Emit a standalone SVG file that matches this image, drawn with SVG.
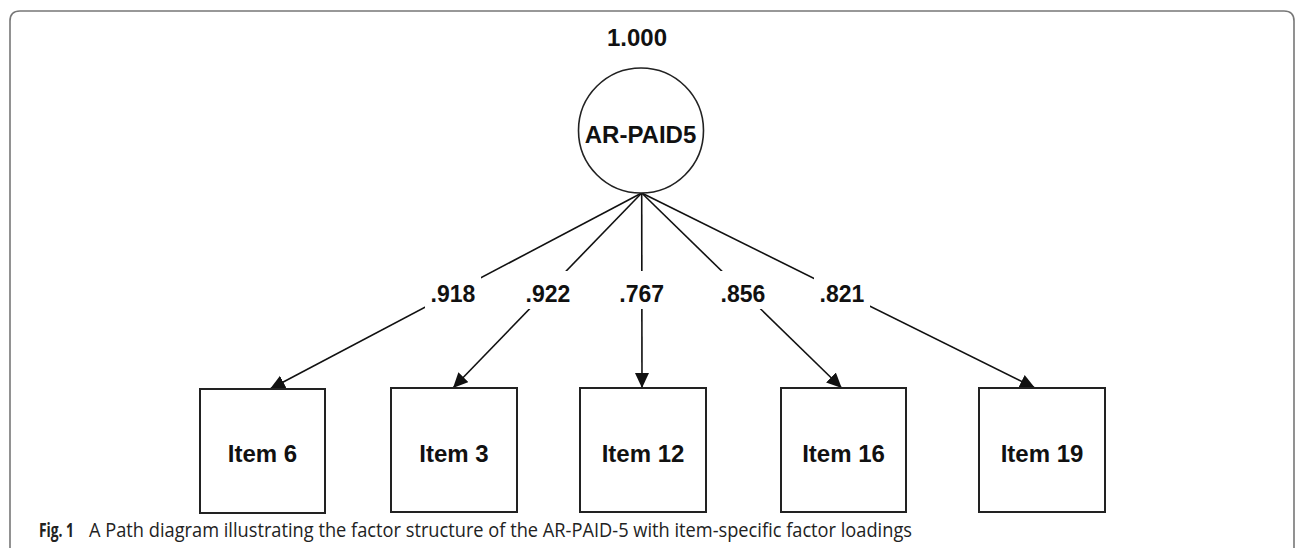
<svg xmlns="http://www.w3.org/2000/svg" width="1295" height="548" viewBox="0 0 1295 548">
  <style>
    .frame { fill: none; stroke: #777; stroke-width: 1.6; }
    .box { fill: #fff; stroke: #222; stroke-width: 2; }
    .latent { fill: #fff; stroke: #222; stroke-width: 1.6; }
    .edge { stroke: #111; stroke-width: 1.6; fill: none; }
    .lbl { font-family: "Liberation Sans", Arial, sans-serif; font-weight: bold; fill: #111; text-anchor: middle; }
    .loading { font-size: 23px; }
    .item { font-size: 24px; }
    .gap { fill: #fff; }
    .cap { font-family: "Open Sans", "Noto Sans", sans-serif; font-size: 20px; fill: #222; }
  </style>
  <defs>
    <marker id="arrow" markerUnits="userSpaceOnUse" markerWidth="16" markerHeight="15" refX="15" refY="7" orient="auto">
      <path d="M0,0 L15,7 L0,14 Z" fill="#111"/>
    </marker>
  </defs>
  <rect width="1295" height="548" fill="#fff"/>
  <path class="frame" d="M10,560 L10,21 Q10,11 20,11 L1284,11 Q1294,11 1294,21 L1294,560"/>

  <g id="connectors">
    <line class="edge" x1="641.7" y1="193" x2="270" y2="389" marker-end="url(#arrow)"/>
    <line class="edge" x1="641.7" y1="193" x2="453" y2="388" marker-end="url(#arrow)"/>
    <line class="edge" x1="641.7" y1="193" x2="642" y2="388" marker-end="url(#arrow)"/>
    <line class="edge" x1="641.7" y1="193" x2="841.7" y2="388" marker-end="url(#arrow)"/>
    <line class="edge" x1="641.7" y1="193" x2="1035" y2="388" marker-end="url(#arrow)"/>
    <rect class="gap" x="425" y="271" width="56" height="38"/>
    <rect class="gap" x="521" y="271" width="55" height="38"/>
    <rect class="gap" x="614" y="271" width="56" height="38"/>
    <rect class="gap" x="715" y="271" width="56" height="38"/>
    <rect class="gap" x="814" y="271" width="56" height="38"/>
    <text class="lbl loading" x="453" y="302">.918</text>
    <text class="lbl loading" x="548" y="302">.922</text>
    <text class="lbl loading" x="641.7" y="302">.767</text>
    <text class="lbl loading" x="743" y="302">.856</text>
    <text class="lbl loading" x="842" y="302">.821</text>
  </g>

  <g id="ar-paid5">
    <text class="lbl" x="637" y="46" font-size="24">1.000</text>
    <circle class="latent" cx="641" cy="130.5" r="62.5"/>
    <text class="lbl" x="640.5" y="143" font-size="24">AR-PAID5</text>
  </g>

  <g id="item6">
    <rect class="box" x="200" y="389" width="125" height="124"/>
    <text class="lbl item" x="262.5" y="462">Item 6</text>
  </g>
  <g id="item3">
    <rect class="box" x="391" y="388" width="126" height="124"/>
    <text class="lbl item" x="454" y="462">Item 3</text>
  </g>
  <g id="item12">
    <rect class="box" x="580" y="388" width="126" height="124"/>
    <text class="lbl item" x="643" y="462">Item 12</text>
  </g>
  <g id="item16">
    <rect class="box" x="781" y="388" width="125" height="124"/>
    <text class="lbl item" x="843.5" y="462">Item 16</text>
  </g>
  <g id="item19">
    <rect class="box" x="979" y="388" width="126" height="124"/>
    <text class="lbl item" x="1042" y="462">Item 19</text>
  </g>

  <g id="caption">
    <text class="cap" x="39" y="537" font-weight="bold" textLength="35" lengthAdjust="spacingAndGlyphs">Fig. 1</text>
    <text class="cap" x="89" y="537" textLength="823" lengthAdjust="spacingAndGlyphs">A Path diagram illustrating the factor structure of the AR-PAID-5 with item-specific factor loadings</text>
  </g>
</svg>
